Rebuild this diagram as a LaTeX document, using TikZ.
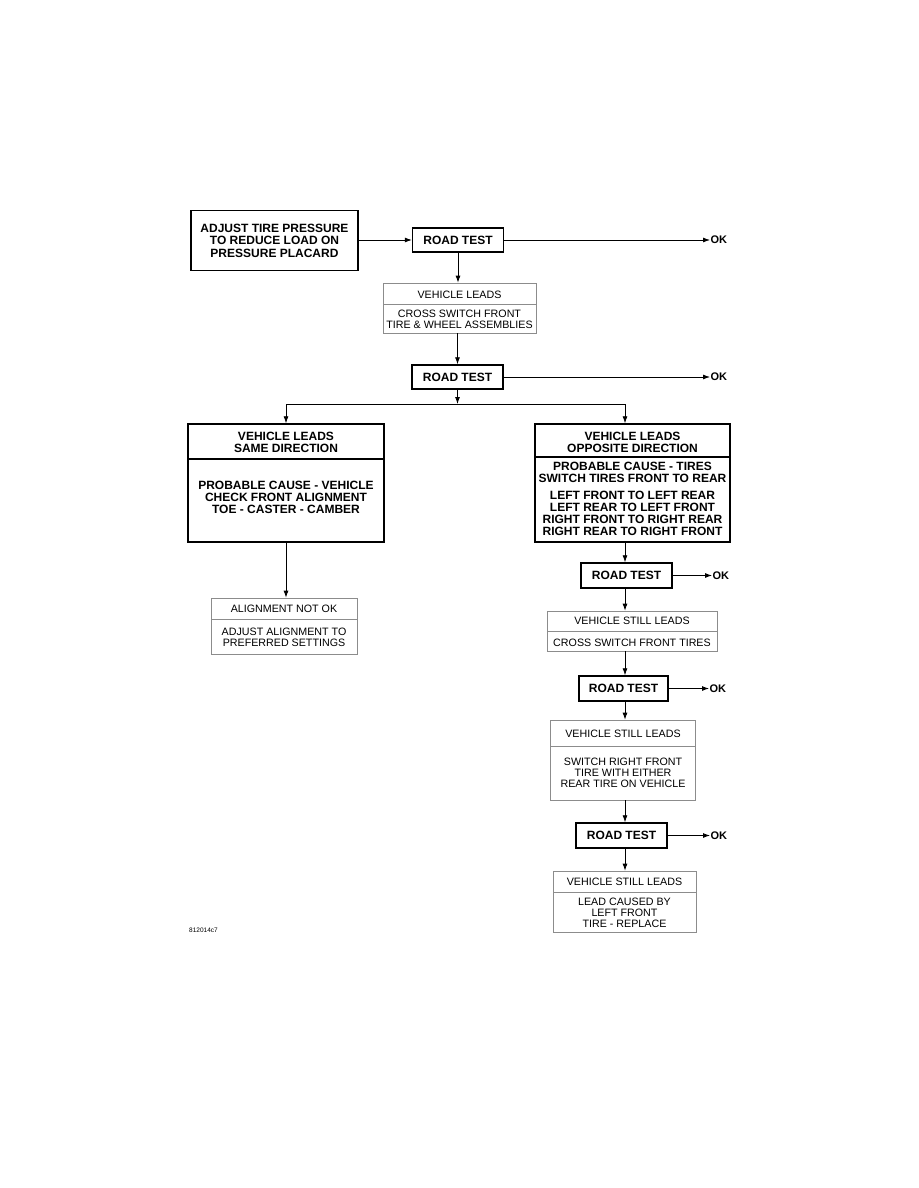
\documentclass[tikz,border=0pt]{standalone}
\usepackage{fontspec}
\setmainfont{Liberation Sans}
\usetikzlibrary{arrows.meta}
\tikzset{
  boldbox/.style={draw=black, line width=1.4pt, inner sep=0pt},
  thinbox/.style={draw=black!45, line width=0.7pt, inner sep=0pt},
  thickdiv/.style={draw=black, line width=1.4pt},
  thindiv/.style={draw=black!45, line width=0.7pt},
  btxt/.style={font=\bfseries\fontsize{12}{11.8}\selectfont, align=center, inner sep=0pt},
  ntxt/.style={font=\fontsize{10.7}{11.2}\selectfont, align=center, inner sep=0pt},
  oktxt/.style={font=\bfseries\fontsize{11}{11}\selectfont, anchor=west, inner sep=0.3pt},
  flow/.style={draw=black, line width=0.8pt, -{Latex[length=7pt,width=5pt]}},
  plain/.style={draw=black, line width=0.8pt}
}
\begin{document}
\begin{tikzpicture}[x=1pt,y=-1pt]
\useasboundingbox (0,0) rectangle (918,1188);
\coordinate (col) at (625,0);

% top row
\node[boldbox, minimum width=167pt, minimum height=60pt] (A) at (274.5,240.5) {};
\node[btxt, font=\bfseries\fontsize{12}{12.5}\selectfont] (Atxt) at (274.5,240.5) {ADJUST TIRE PRESSURE\\TO REDUCE LOAD ON\\PRESSURE PLACARD};
\node[boldbox, minimum width=91pt, minimum height=24pt] (RT1) at (458,240) {};
\node[btxt] (RT1t) at (458,240) {ROAD TEST};
\coordinate (ok1) at (710,240);
\node[oktxt] (OK1) at (ok1) {OK};
\draw[flow] (A.east |- RT1) -- (RT1.west);
\draw[flow] (RT1.east) -- (ok1);

% box B
\node[thinbox, minimum width=153pt, minimum height=50pt] (B) at (459.5,308) {};
\draw[thindiv] (383,304) -- (536,304);
\node[ntxt] (Bh) at (459.5,294.5) {VEHICLE LEADS};
\node[ntxt] (Bb) at (459.5,319) {CROSS SWITCH FRONT\\TIRE \& WHEEL ASSEMBLIES};
\draw[flow] (RT1.south) -- (RT1.south |- B.north);

% road test 2
\node[boldbox, minimum width=91pt, minimum height=24pt] (RT2) at (457.5,377) {};
\node[btxt] (RT2t) at (457.5,377) {ROAD TEST};
\coordinate (ok2) at (710,377);
\node[oktxt] (OK2) at (ok2) {OK};
\draw[flow] (B.south -| RT2.north) -- (RT2.north);
\draw[flow] (RT2.east) -- (ok2);

% branch
\coordinate (br) at (457.5,404);
\coordinate (brL) at (286,404);
\coordinate (brR) at (625,404);
\draw[flow] (RT2.south) -- (br);
\draw[plain] (brL) -- (brR);

% box C
\node[boldbox, minimum width=196pt, minimum height=118pt] (C) at (286,483) {};
\draw[thickdiv] (188,459) -- (384,459);
\node[btxt] (Ch) at (286,442.5) {VEHICLE LEADS\\SAME DIRECTION};
\node[btxt] (Cb) at (286,497.5) {PROBABLE CAUSE - VEHICLE\\CHECK FRONT ALIGNMENT\\TOE - CASTER - CAMBER};
\draw[flow] (brL) -- (brL |- C.north);

% box D
\node[boldbox, minimum width=195pt, minimum height=118pt] (D) at (632.5,483) {};
\draw[thickdiv] (535,457) -- (730,457);
\node[btxt] (Dh) at (632.5,442.5) {VEHICLE LEADS\\OPPOSITE DIRECTION};
\node[btxt] (Db1) at (632.5,472.5) {PROBABLE CAUSE - TIRES\\SWITCH TIRES FRONT TO REAR};
\node[btxt] (Db2) at (632.5,513.5) {LEFT FRONT TO LEFT REAR\\LEFT REAR TO LEFT FRONT\\RIGHT FRONT TO RIGHT REAR\\RIGHT REAR TO RIGHT FRONT};
\draw[flow] (brR) -- (brR |- D.north);

% box E
\node[thinbox, minimum width=146pt, minimum height=56pt] (E) at (284,626) {};
\draw[thindiv] (211,619) -- (357,619);
\node[ntxt] (Eh) at (284,609) {ALIGNMENT NOT OK};
\node[ntxt] (Eb) at (284,637.5) {ADJUST ALIGNMENT TO\\PREFERRED SETTINGS};
\draw[flow] (C.south) -- (C.south |- E.north);

% road test 3
\node[boldbox, minimum width=91pt, minimum height=25pt] (RT3) at (626.5,575.5) {};
\node[btxt] (RT3t) at (626.5,575.5) {ROAD TEST};
\coordinate (ok3) at (712,575.5);
\node[oktxt] (OK3) at (ok3) {OK};
\draw[flow] (D.south -| col) -- (RT3.north -| col);
\draw[flow] (RT3.east) -- (ok3);

% box F
\node[thinbox, minimum width=170pt, minimum height=40pt] (F) at (632,631) {};
\draw[thindiv] (547,631) -- (717,631);
\node[ntxt] (Fh) at (632,621) {VEHICLE STILL LEADS};
\node[ntxt] (Fb) at (632,643) {CROSS SWITCH FRONT TIRES};
\draw[flow] (RT3.south -| col) -- (F.north -| col);

% road test 4
\node[boldbox, minimum width=89pt, minimum height=25pt] (RT4) at (623.5,688.5) {};
\node[btxt] (RT4t) at (623.5,688.5) {ROAD TEST};
\coordinate (ok4) at (709,688.5);
\node[oktxt] (OK4) at (ok4) {OK};
\draw[flow] (F.south -| col) -- (RT4.north -| col);
\draw[flow] (RT4.east) -- (ok4);

% box G
\node[thinbox, minimum width=145pt, minimum height=80pt] (G) at (623,760) {};
\draw[thindiv] (550.5,746) -- (695.5,746);
\node[ntxt] (Gh) at (623,734) {VEHICLE STILL LEADS};
\node[ntxt] (Gb) at (623,773) {SWITCH RIGHT FRONT\\TIRE WITH EITHER\\REAR TIRE ON VEHICLE};
\draw[flow] (RT4.south -| col) -- (G.north -| col);

% road test 5
\node[boldbox, minimum width=91pt, minimum height=25pt] (RT5) at (621.5,835.5) {};
\node[btxt] (RT5t) at (621.5,835.5) {ROAD TEST};
\coordinate (ok5) at (710,835.5);
\node[oktxt] (OK5) at (ok5) {OK};
\draw[flow] (G.south -| col) -- (RT5.north -| col);
\draw[flow] (RT5.east) -- (ok5);

% box H
\node[thinbox, minimum width=143pt, minimum height=61pt] (H) at (624.5,901.5) {};
\draw[thindiv] (553,892) -- (696,892);
\node[ntxt] (Hh) at (624.5,882) {VEHICLE STILL LEADS};
\node[ntxt] (Hb) at (624.5,913) {LEAD CAUSED BY\\LEFT FRONT\\TIRE - REPLACE};
\draw[flow] (RT5.south -| col) -- (H.north -| col);

% figure label
\node[font=\fontsize{6.5}{6.5}\selectfont, anchor=west, inner sep=0pt] (lbl) at (189,930) {812014c7};
\end{tikzpicture}
\end{document}
